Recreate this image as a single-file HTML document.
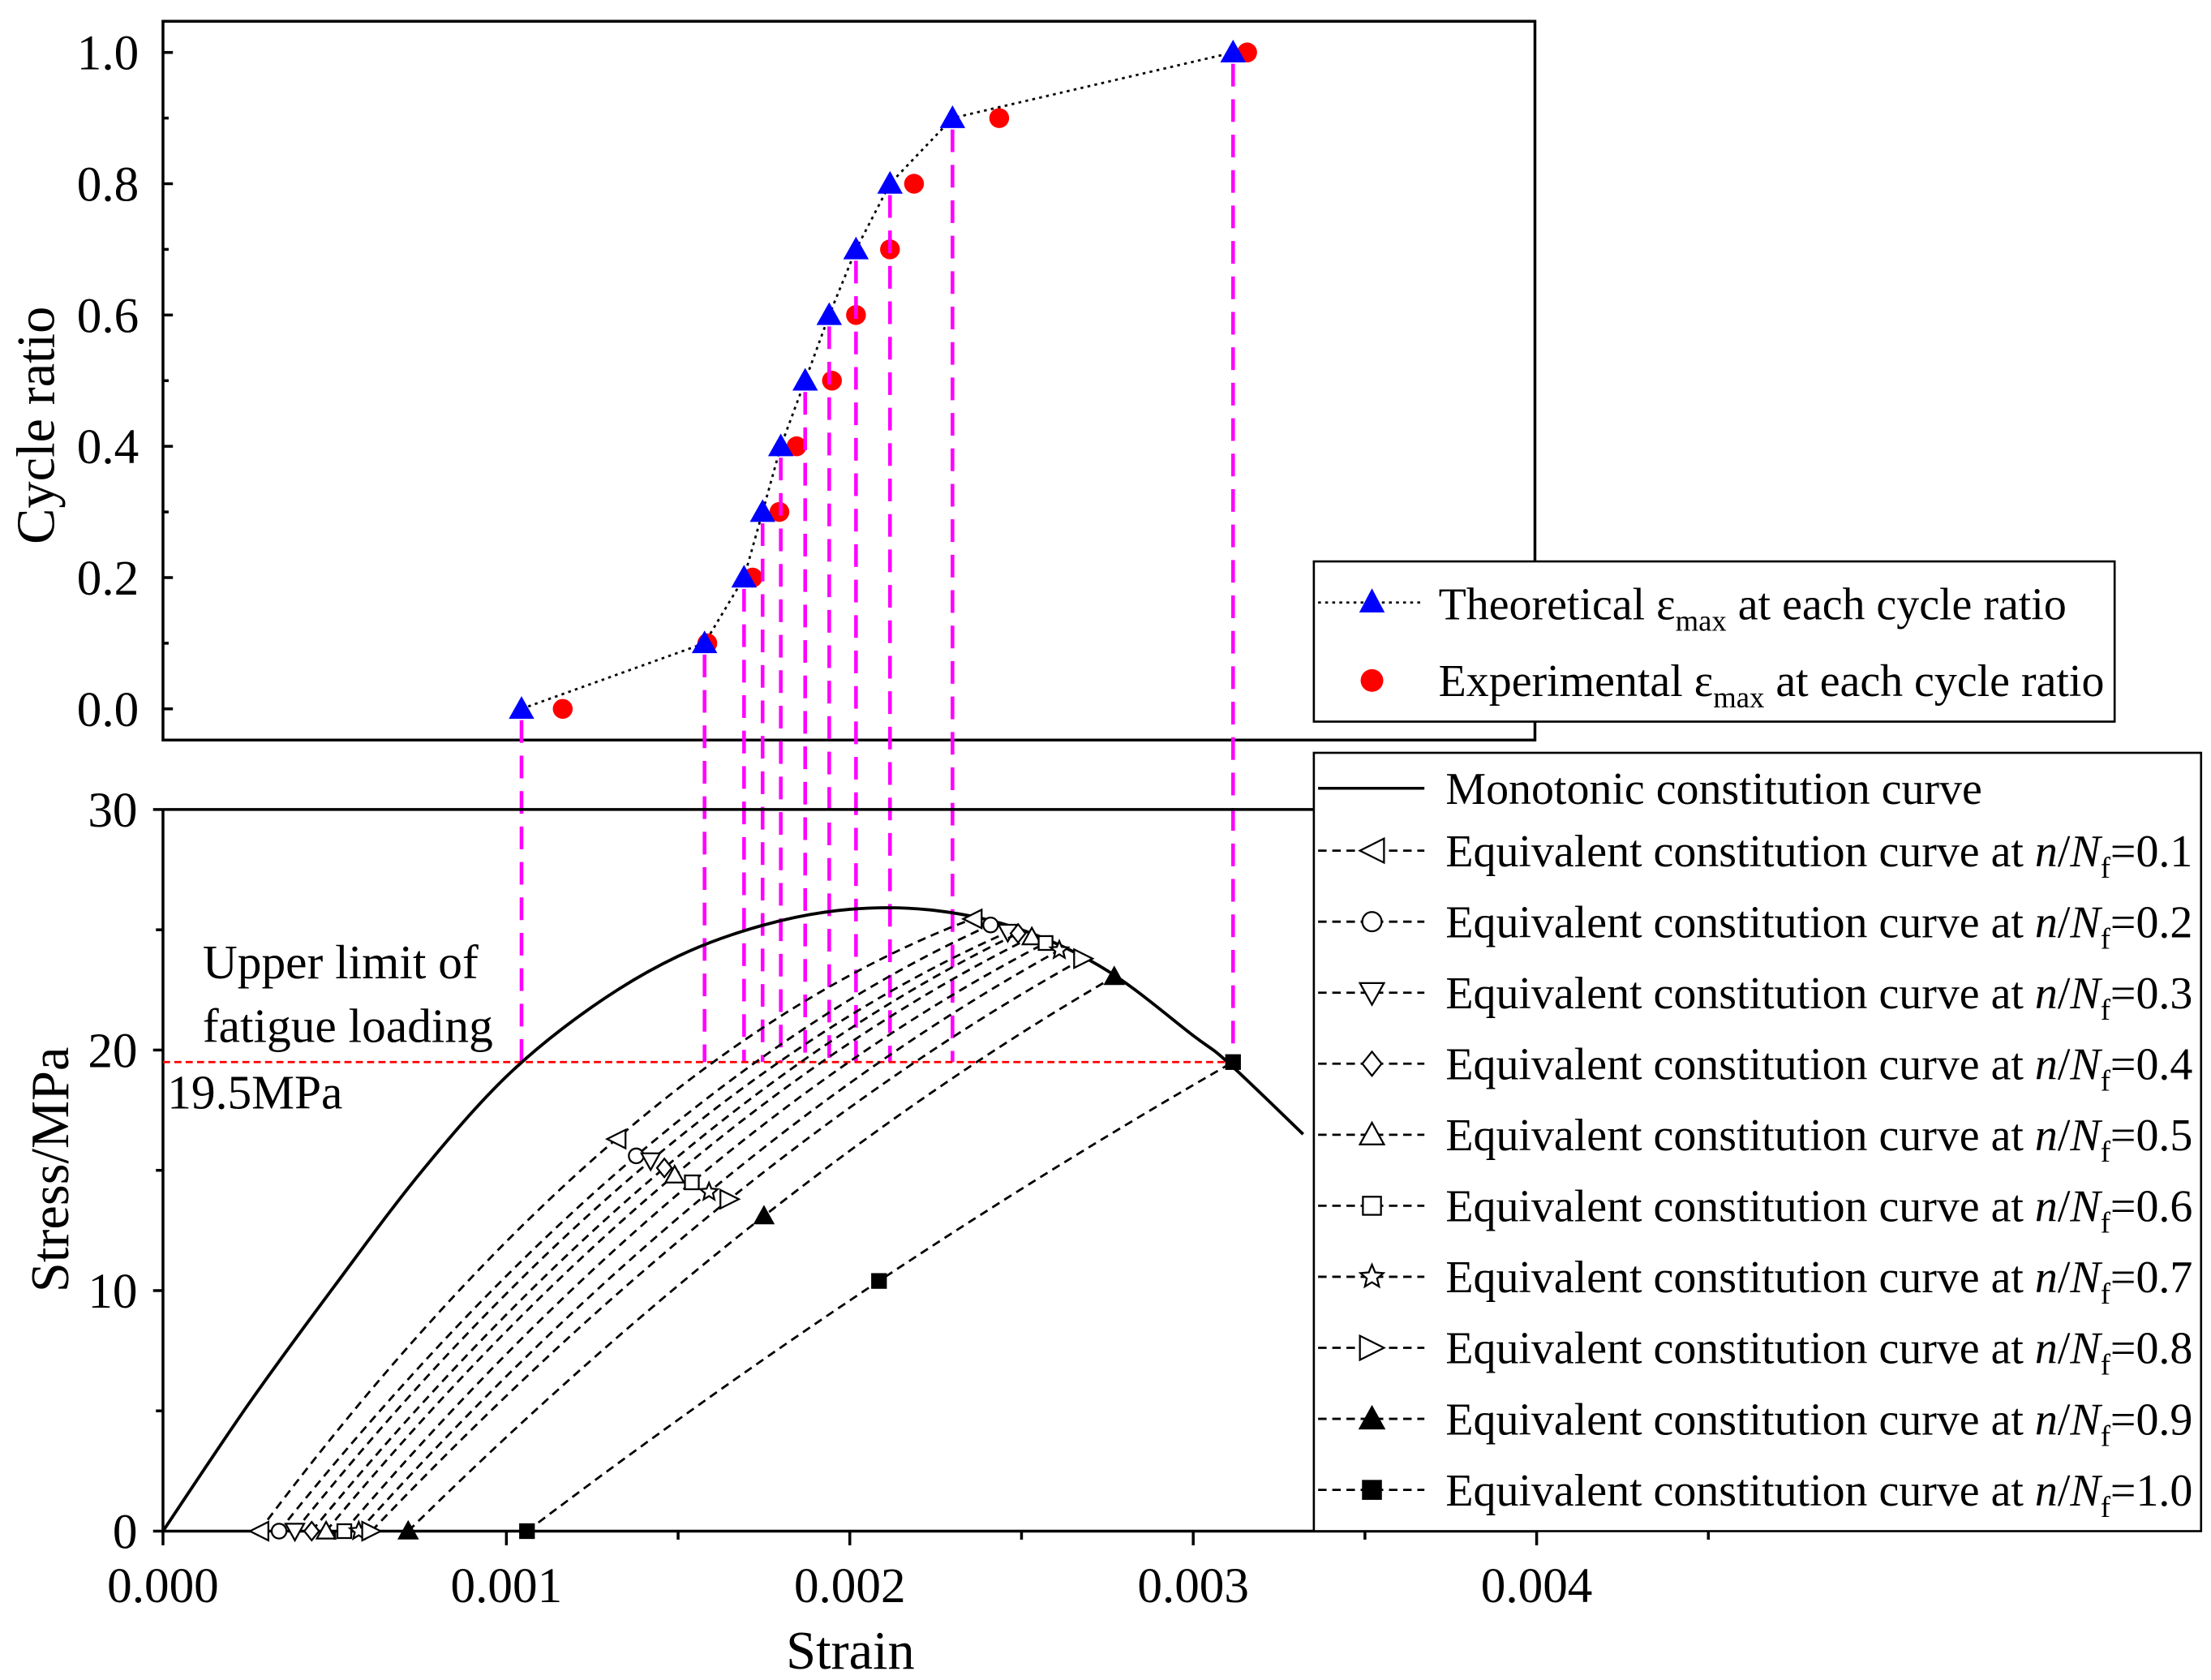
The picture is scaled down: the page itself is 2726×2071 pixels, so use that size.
<!DOCTYPE html>
<html><head><meta charset="utf-8"><style>
html,body{margin:0;padding:0;background:#fff}
svg{display:block}
text{font-family:"Liberation Serif",serif;fill:#000}
</style></head><body>
<svg id="chart" xmlns="http://www.w3.org/2000/svg" width="2726" height="2071" viewBox="0 0 1560 1185" preserveAspectRatio="none">
<g id="g"></g>
</svg>
<script>
const cycleRatios=[0,0.1,0.2,0.3,0.4,0.5,0.6,0.7,0.8,0.9,1.0];
const theoStrain=[0.001044,0.001577,0.001692,0.001746,0.001799,0.00187,0.00194,0.002018,0.002117,0.002299,0.003116];
const expStrain=[0.001164,0.001585,0.001717,0.001795,0.001845,0.001948,0.002018,0.002117,0.002187,0.002435,0.003157];
const monoStrain=[0,0.00025,0.0005,0.00075,0.001,0.00125,0.0015,0.00175,0.002,0.00225,0.0025,0.00275,0.003,0.0031,0.00332];
const monoStress=[0,5.3,10.2,14.9,18.9,21.8,23.9,25.2,25.85,25.8,25.0,23.3,20.6,19.5,16.5];
const eqLabels=['0.1','0.2','0.3','0.4','0.5','0.6','0.7','0.8','0.9','1.0'];
const eqStartStrain=[0.00028,0.000338,0.000384,0.000433,0.000475,0.000528,0.00057,0.000607,0.000714,0.00106];
const eqMidStrain=[0.00132,0.001378,0.00142,0.00146,0.00149,0.00154,0.00159,0.00165,0.00175,0.002085];
const eqMidStress=[16.3,15.6,15.4,15.1,14.8,14.5,14.1,13.8,13.1,10.4];
const eqEndStrain=[0.002357,0.00241,0.00246,0.00249,0.00253,0.00257,0.00261,0.00268,0.00277,0.003116];
const eqEndStress=[25.45,25.2,24.9,24.85,24.7,24.45,24.15,23.8,23.05,19.5];
const eqMarkers=['ltri','circ','dtri','diam','utri','sq','star','rtri','futri','fsq'];
const xTicks=[0,0.001,0.002,0.003,0.004];
const xTickLabels=['0.000','0.001','0.002','0.003','0.004'];
const yTopTicks=[0,0.2,0.4,0.6,0.8,1.0];
const yTopLabels=['0.0','0.2','0.4','0.6','0.8','1.0'];
const yBotTicks=[0,10,20,30];
const limitStress=19.5;

const X=s=>115+s*242300;
const YT=v=>500-463*v;
const YB=v=>1080-16.967*v;
const NS='http://www.w3.org/2000/svg';
const g=document.getElementById('g');
function mk(tag,attrs,parent){const e=document.createElementNS(NS,tag);for(const k in attrs)e.setAttribute(k,attrs[k]);(parent||g).appendChild(e);return e;}
function txt(x,y,s,size,anchor,parent){const t=mk('text',{x:x,y:y,'font-size':size,'text-anchor':anchor||'start'},parent);t.textContent=s;return t;}
function marker(type,x,y,r,parent){
  let e;
  const fill=(type[0]==='f')?'#000':'#fff';
  if(type==='circ')e=mk('circle',{cx:x,cy:y,r:r*0.8,fill:'#fff',stroke:'#000','stroke-width':1.3},parent);
  else if(type==='sq'||type==='fsq')e=mk('rect',{x:x-r*0.75,y:y-r*0.75,width:r*1.5,height:r*1.5,fill:fill,stroke:'#000','stroke-width':1.3},parent);
  else {
    let p;
    if(type==='ltri')p=[[x-r,y],[x+r,y-r],[x+r,y+r]];
    else if(type==='rtri')p=[[x+r,y],[x-r,y-r],[x-r,y+r]];
    else if(type==='dtri')p=[[x-r,y-r*0.8],[x+r,y-r*0.8],[x,y+r]];
    else if(type==='utri'||type==='futri')p=[[x-r,y+r*0.8],[x+r,y+r*0.8],[x,y-r]];
    else if(type==='diam')p=[[x,y-r],[x+r*0.8,y],[x,y+r],[x-r*0.8,y]];
    else if(type==='star'){p=[];for(let i=0;i<10;i++){const a=-Math.PI/2+i*Math.PI/5;const rr=i%2?r*0.45:r;p.push([x+rr*Math.cos(a),y+rr*Math.sin(a)]);}}
    e=mk('polygon',{points:p.map(q=>q.join(',')).join(' '),fill:fill,stroke:'#000','stroke-width':1.3},parent);
  }
  return e;
}
const topG=mk('g',{});


const tf=mk('rect',{x:115,y:15,width:968,height:507,fill:'none',stroke:'#000','stroke-width':2},topG);


yTopTicks.forEach((v,i)=>{
  mk('line',{x1:115,y1:YT(v),x2:122,y2:YT(v),stroke:'#000','stroke-width':2},topG);
  const t=txt(98,YT(v)+12,yTopLabels[i],35,'end',topG);
  
  
  if(i<yTopTicks.length-1)mk('line',{x1:115,y1:YT(v+0.1),x2:119,y2:YT(v+0.1),stroke:'#000','stroke-width':2},topG);
});
const yt=txt(0,0,'Cycle ratio',38,'middle',topG);
yt.setAttribute('transform','translate(38,300) rotate(-90)');


theoStrain.forEach((s,i)=>{
  const l=mk('line',{x1:X(s),y1:YT(cycleRatios[i])+8,x2:X(s),y2:YB(limitStress),stroke:'#f0f','stroke-width':2.6,'stroke-dasharray':'16,9'});
  
  
});
const tl=mk('polyline',{points:theoStrain.map((s,i)=>X(s)+','+YT(cycleRatios[i])).join(' '),fill:'none',stroke:'#000','stroke-width':1.6,'stroke-dasharray':'2,3'},topG);


expStrain.forEach((s,i)=>{
  const c=mk('circle',{cx:X(s),cy:YT(cycleRatios[i]),r:7,fill:'#f00'},topG);
  
  
});
theoStrain.forEach((s,i)=>{
  const x=X(s),y=YT(cycleRatios[i]);
  const p=mk('polygon',{points:`${x-9},${y+7} ${x+9},${y+7} ${x},${y-9}`,fill:'#00f'},topG);
  
  
});
const lg1=mk('g',{});


mk('rect',{x:927,y:396,width:565,height:113,fill:'#fff',stroke:'#000','stroke-width':1.5},lg1);
mk('line',{x1:930,y1:425,x2:1005,y2:425,stroke:'#000','stroke-width':1.6,'stroke-dasharray':'2,3'},lg1);
mk('polygon',{points:'959,432 977,432 968,415',fill:'#00f'},lg1);
const l1=txt(1015,437,'',32,'start',lg1);
l1.innerHTML='Theoretical  ε<tspan font-size="21" dy="8">max</tspan><tspan dy="-8"> at each cycle ratio</tspan>';
mk('circle',{cx:968,cy:480,r:8,fill:'#f00'},lg1);
const l2=txt(1015,491,'',32,'start',lg1);
l2.innerHTML='Experimental ε<tspan font-size="21" dy="8">max</tspan><tspan dy="-8"> at each cycle ratio</tspan>';

const botG=mk('g',{});


mk('line',{x1:115,y1:571,x2:927,y2:571,stroke:'#000','stroke-width':2},botG);
mk('line',{x1:115,y1:571,x2:115,y2:1080,stroke:'#000','stroke-width':2},botG);
mk('line',{x1:115,y1:1080,x2:1084,y2:1080,stroke:'#000','stroke-width':2},botG);
yBotTicks.forEach(v=>{
  mk('line',{x1:108,y1:YB(v),x2:115,y2:YB(v),stroke:'#000','stroke-width':2},botG);
  if(v<30)mk('line',{x1:110,y1:YB(v+5),x2:115,y2:YB(v+5),stroke:'#000','stroke-width':2},botG);
  const t=txt(97,YB(v)+12,String(v),35,'end',botG);
  
  
});
xTicks.forEach((v,i)=>{
  mk('line',{x1:X(v),y1:1080,x2:X(v),y2:1090,stroke:'#000','stroke-width':2},botG);
  mk('line',{x1:X(v+0.0005),y1:1080,x2:X(v+0.0005),y2:1086,stroke:'#000','stroke-width':2},botG);
  const t=txt(X(v),1130,xTickLabels[i],35,'middle',botG);
  
  
});
const xt=txt(600,1177,'Strain',38,'middle',botG);


const yb=txt(0,0,'Stress/MPa',38,'middle',botG);
yb.setAttribute('transform','translate(48,825) rotate(-90)');


const ll=mk('line',{x1:115,y1:YB(limitStress),x2:X(theoStrain[10]),y2:YB(limitStress),stroke:'#f00','stroke-width':1.6,'stroke-dasharray':'5,3'},botG);


const a1=txt(143,690,'Upper limit of',34,'start',botG);


txt(143,735,'fatigue loading',34,'start',botG);
const a2=txt(118,782,'19.5MPa',34,'start',botG);


const mp=monoStrain.map((s,i)=>[X(s),YB(monoStress[i])]);
let d='M'+mp[0].join(',');
for(let i=0;i<mp.length-1;i++){
  const p0=mp[Math.max(i-1,0)],p1=mp[i],p2=mp[i+1],p3=mp[Math.min(i+2,mp.length-1)];
  d+=` C${p1[0]+(p2[0]-p0[0])/6},${p1[1]+(p2[1]-p0[1])/6} ${p2[0]-(p3[0]-p1[0])/6},${p2[1]-(p3[1]-p1[1])/6} ${p2[0]},${p2[1]}`;
}
const mc=mk('path',{d:d,fill:'none',stroke:'#000','stroke-width':2.2},botG);


eqLabels.forEach((lab,i)=>{
  const S=[X(eqStartStrain[i]),YB(0)],M=[X(eqMidStrain[i]),YB(eqMidStress[i])],E=[X(eqEndStrain[i]),YB(eqEndStress[i])];
  const C=[2*M[0]-(S[0]+E[0])/2,2*M[1]-(S[1]+E[1])/2];
  const p=mk('path',{d:`M${S} Q${C} ${E}`,fill:'none',stroke:'#000','stroke-width':1.6,'stroke-dasharray':'6,4'},botG);
  
  
  [S,M,E].forEach(q=>{
    const m=marker(eqMarkers[i],q[0],q[1],6.5,botG);
    
    
  });
});
const lg2=mk('g',{});


mk('rect',{x:927,y:531,width:626,height:549,fill:'#fff',stroke:'#000','stroke-width':1.5},lg2);
mk('line',{x1:930,y1:556,x2:1005,y2:556,stroke:'#000','stroke-width':2},lg2);
txt(1020,567,'Monotonic constitution curve',32,'start',lg2);
eqLabels.forEach((lab,i)=>{
  const y=600+i*50.1;
  mk('line',{x1:930,y1:y,x2:1005,y2:y,stroke:'#000','stroke-width':1.6,'stroke-dasharray':'6,4'},lg2);
  marker(eqMarkers[i],968,y,8.5,lg2);
  const t=txt(1020,y+11,'',32,'start',lg2);
  t.innerHTML='Equivalent constitution curve at <tspan font-style="italic">n</tspan>/<tspan font-style="italic">N</tspan><tspan font-size="21" dy="8">f</tspan><tspan dy="-8">='+lab+'</tspan>';
  
  
});
</script>
</body></html>
